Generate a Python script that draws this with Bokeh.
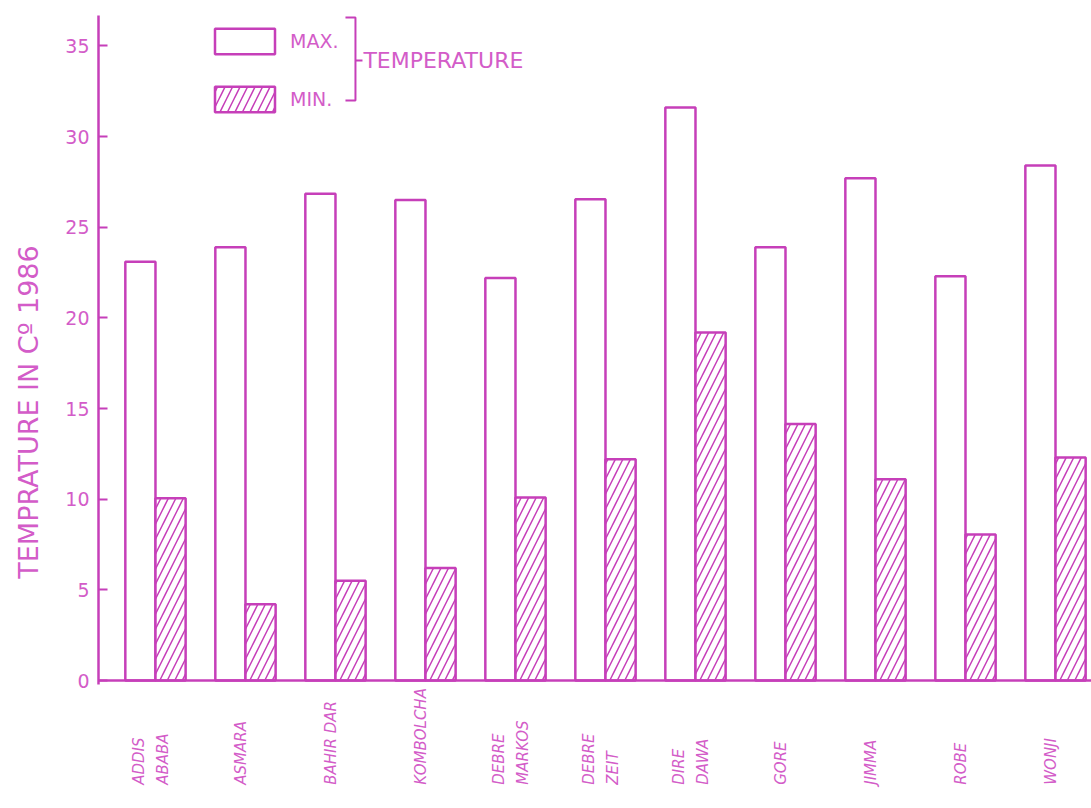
import numpy as np
from bokeh.plotting import figure
from bokeh.models import (Range1d, FixedTicker, Label, Legend, LegendItem,
                          ColumnDataSource, Span)
from bokeh.core.properties import value
from bokeh.embed import file_html
from bokeh.resources import INLINE

# ---- data ----
stations = ["ADDIS ABABA", "ASMARA", "BAHIR DAR", "KOMBOLCHA", "DEBRE MARKOS",
            "DEBRE ZEIT", "DIRE DAWA", "GORE", "JIMMA", "ROBE", "WONJI"]
station_lines = [["ADDIS", "ABABA"], ["ASMARA"], ["BAHIR DAR"], ["KOMBOLCHA"],
                 ["DEBRE", "MARKOS"], ["DEBRE", "ZEIT"], ["DIRE", "DAWA"],
                 ["GORE"], ["JIMMA"], ["ROBE"], ["WONJI"]]
max_temp = [23.1, 23.9, 26.85, 26.5, 22.2, 26.55, 31.6, 23.9, 27.7, 22.3, 28.4]
min_temp = [10.05, 4.2, 5.5, 6.2, 10.1, 12.2, 19.2, 14.15, 11.1, 8.05, 12.3]
y_ticks = [0, 5, 10, 15, 20, 25, 30, 35]
y_title = "TEMPRATURE IN C\u00ba 1986"
legend_labels = ["MAX.", "MIN."]
legend_group = "TEMPERATURE"

LINE = "#c63fb9"
TEXT = "#d35cc8"
FONT = "DejaVu Sans"

Y_TOP = 36.68
Y_BOTTOM = -7.06

idx = np.arange(len(stations))
bw = 0.335
src = ColumnDataSource(dict(
    x_max=idx - bw / 2, x_min=idx + bw / 2,
    max_temp=max_temp, min_temp=min_temp, station=stations))

p = figure(width=1091, height=808, output_backend="svg", toolbar_location=None,
           x_range=Range1d(-0.633, 10.4), y_range=Range1d(Y_BOTTOM, Y_TOP),
           min_border_left=98, min_border_right=0, min_border_top=15,
           min_border_bottom=0)
p.outline_line_color = None
p.grid.visible = False
p.background_fill_color = "white"
p.border_fill_color = "white"
p.xaxis.visible = False

r_max = p.vbar(x="x_max", top="max_temp", width=bw, source=src,
               fill_color="white", line_color=LINE, line_width=2.5)
r_min = p.vbar(x="x_min", top="min_temp", width=bw, source=src,
               fill_color="white", line_color=LINE, line_width=2.5,
               hatch_pattern="/", hatch_color=LINE, hatch_scale=15,
               hatch_weight=1.5)

# baseline
p.add_layout(Span(location=0, dimension="width", line_color=LINE,
                  line_width=2.5))

# y axis
ya = p.yaxis[0]
ya.ticker = FixedTicker(ticks=y_ticks)
ya.bounds = (-0.2, Y_TOP)
ya.axis_line_color = LINE
ya.axis_line_width = 2.5
ya.major_tick_in = 9
ya.major_tick_out = 0
ya.major_tick_line_color = LINE
ya.major_tick_line_width = 2
ya.minor_tick_line_color = None
ya.major_label_text_color = TEXT
ya.major_label_text_font = FONT
ya.major_label_text_font_size = "19px"
ya.major_label_standoff = 9
ya.axis_label = y_title
ya.axis_label_text_color = TEXT
ya.axis_label_text_font = FONT
ya.axis_label_text_font_style = "normal"
ya.axis_label_text_font_size = "27px"
ya.axis_label_standoff = 18

# station labels below the baseline
lx, lt, lo = [], [], []
for i, lines in enumerate(station_lines):
    n = len(lines)
    for j, ln in enumerate(lines):
        lx.append(float(idx[i]))
        lt.append(ln)
        lo.append((j - (n - 1) / 2) * 24 - 4)
lab_src = ColumnDataSource(dict(x=lx, y=[-5.75] * len(lx), text=lt, off=lo))
p.text(x="x", y="y", text="text", x_offset="off", source=lab_src,
       angle=np.pi / 2, text_align="left", text_baseline="middle",
       text_color=TEXT, text_font=value(FONT), text_font_style="italic",
       text_font_size="15px")

# legend
legend = Legend(items=[LegendItem(label=legend_labels[0], renderers=[r_max]),
                       LegendItem(label=legend_labels[1], renderers=[r_min])],
                location=(109, 693), orientation="vertical",
                glyph_width=75, glyph_height=32, spacing=26, label_standoff=8,
                padding=0, margin=0, border_line_color=None,
                background_fill_alpha=0, label_text_color=TEXT,
                label_text_font=FONT, label_text_font_size="19px")
p.add_layout(legend)

# bracket grouping the legend entries
p.line(x=[2.111, 2.222, 2.222, 2.111], y=[36.57, 36.57, 31.99, 31.99],
       line_color=LINE, line_width=2)
p.line(x=[2.222, 2.30], y=[34.2, 34.2], line_color=LINE, line_width=2)
p.add_layout(Label(x=2.31, y=34.2, text=legend_group, text_align="left",
                   text_baseline="middle", text_color=TEXT, text_font=FONT,
                   text_font_size="22px"))

open("out.html", "w").write(file_html(p, INLINE))
